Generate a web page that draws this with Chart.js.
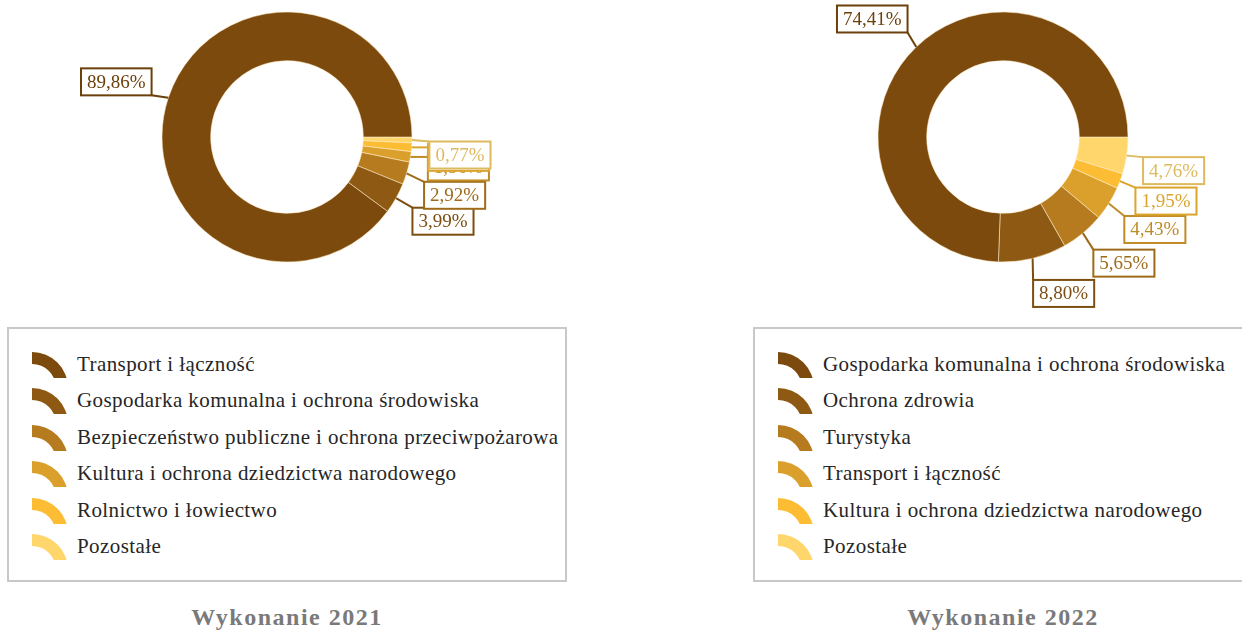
<!DOCTYPE html>
<html lang="pl">
<head>
<meta charset="utf-8">
<script src="https://cdn.jsdelivr.net/npm/chart.js@4.4.1/dist/chart.umd.min.js"></script>
<style>
  html, body { margin: 0; padding: 0; background: #fff; }
  body {
    width: 1242px; height: 632px; position: relative; overflow: hidden;
    font-family: "Liberation Serif", "Times New Roman", serif;
  }
  .panel { position: absolute; top: 0; width: 621px; height: 632px; }
  .panel canvas.chart { position: absolute; left: 0; top: 0; }
  .legend {
    position: absolute; top: 327px; height: 251px;
    border: 2px solid #c8c8c8;
  }
  .legend .row {
    position: absolute; left: 0; height: 36px; line-height: 36px;
    white-space: nowrap; color: #262626; font-size: 21px; letter-spacing: 0.42px;
  }
  .legend .row canvas { position: absolute; left: 22px; top: 5px; }
  .legend .row span { position: absolute; left: 68px; }
  .title {
    position: absolute; top: 604px; width: 400px; text-align: center;
    font-weight: bold; font-size: 24px; letter-spacing: 1.5px; color: #7a7a7a;
  }
</style>
</head>
<body>
<div class="panel" id="p2021" style="left:0">
  <canvas class="chart" id="c2021" width="621" height="320"></canvas>
  <div class="legend" style="left:7px; width:556px"></div>
  <div class="title" style="left:87px"></div>
</div>
<div class="panel" id="p2022" style="left:621px">
  <canvas class="chart" id="c2022" width="621" height="320"></canvas>
  <div class="legend" style="left:132px; width:600px"></div>
  <div class="title" style="left:182px"></div>
</div>
<script>
// struktura wydatków majątkowych (%)
const categories2021 = [
  'Transport i łączność',
  'Gospodarka komunalna i ochrona środowiska',
  'Bezpieczeństwo publiczne i ochrona przeciwpożarowa',
  'Kultura i ochrona dziedzictwa narodowego',
  'Rolnictwo i łowiectwo',
  'Pozostałe'
];
const shares2021 = [89.86, 3.99, 2.92, 1.36, 1.10, 0.77];

const categories2022 = [
  'Gospodarka komunalna i ochrona środowiska',
  'Ochrona zdrowia',
  'Turystyka',
  'Transport i łączność',
  'Kultura i ochrona dziedzictwa narodowego',
  'Pozostałe'
];
const shares2022 = [74.41, 8.80, 5.65, 4.43, 1.95, 4.76];

const titles = ['Wykonanie 2021', 'Wykonanie 2022'];

const palette = ['#7b4a0c', '#8e5a13', '#b67b1e', '#dba02b', '#fcbc33', '#ffd66c'];

// przesunięcia etykiet względem środka łuku (kolejność legendy)
const labelOffsets2021 = [[-52, -16], [47, 23], [48, 22], [48, 10], [47, 10], [48, 15]];
const labelOffsets2022 = [[-44, -28], [31, 35], [41, 30], [46, 26], [46, 20], [47, 15]];

function darken(hex, f) {
  const n = parseInt(hex.slice(1), 16);
  const r = Math.round(((n >> 16) & 255) * f);
  const g = Math.round(((n >> 8) & 255) * f);
  const b = Math.round((n & 255) * f);
  return `rgb(${r},${g},${b})`;
}

const fmt = v => v.toFixed(2).replace('.', ',') + '%';

const sliceLabels = {
  id: 'sliceLabels',
  afterDatasetsDraw(chart, args, opts) {
    const ctx = chart.ctx;
    const meta = chart.getDatasetMeta(0);
    const data = chart.data.datasets[0].data;
    const n = data.length;
    ctx.save();
    ctx.font = '19px "Liberation Serif"';
    ctx.textAlign = 'center';
    ctx.textBaseline = 'middle';
    // legend order: first category drawn first, last one on top
    for (let k = 0; k < n; k++) {
      const i = n - 1 - k;
      const arc = meta.data[i];
      const p = arc.getProps(['x', 'y', 'startAngle', 'endAngle', 'outerRadius'], true);
      const mid = (p.startAngle + p.endAngle) / 2;
      const ax = p.x + Math.cos(mid) * p.outerRadius;
      const ay = p.y + Math.sin(mid) * p.outerRadius;
      const [dx, dy] = opts.offsets[k];
      const text = fmt(data[i]);
      const w = ctx.measureText(text).width + 12;
      const h = 27;
      const cx = ax + dx, cy = ay + dy;
      const bx = cx - w / 2, by = cy - h / 2;
      const px = Math.min(Math.max(ax, bx), bx + w);
      const py = Math.min(Math.max(ay, by), by + h);
      const col = darken(opts.colors[k], 0.87);

      ctx.strokeStyle = col;
      ctx.lineWidth = 2;
      ctx.beginPath();
      ctx.moveTo(ax, ay);
      ctx.lineTo(px, py);
      ctx.stroke();

      ctx.fillStyle = '#fff';
      ctx.fillRect(bx, by, w, h);
      ctx.strokeRect(bx, by, w, h);
      ctx.fillStyle = col;
      ctx.fillText(text, cx, cy + 1);
    }
    ctx.restore();
  }
};

function legendIcon(color) {
  const c = document.createElement('canvas');
  c.width = 38; c.height = 27;
  const g = c.getContext('2d');
  g.fillStyle = color;
  g.beginPath();
  g.arc(1, 37, 36, -Math.PI / 2, 0);
  g.arc(1, 37, 24, 0, -Math.PI / 2, true);
  g.closePath();
  g.fill();
  return c;
}

function buildPanel(panelId, canvasId, cats, vals, offsets, title, padLeft) {
  const canvas = document.getElementById(canvasId);
  new Chart(canvas, {
    type: 'doughnut',
    data: {
      labels: cats.slice().reverse(),
      datasets: [{
        data: vals.slice().reverse(),
        backgroundColor: palette.slice().reverse(),
        borderColor: 'rgba(255,236,200,0.55)',
        borderWidth: 1
      }]
    },
    options: {
      responsive: false,
      animation: false,
      events: [],
      rotation: 90,
      radius: 125,
      cutout: 76,
      layout: { padding: { left: padLeft, right: 621 - padLeft - 250, top: 12, bottom: 58 } },
      plugins: {
        legend: { display: false },
        tooltip: { enabled: false },
        sliceLabels: { offsets: offsets, colors: palette }
      }
    },
    plugins: [sliceLabels]
  });

  const panel = document.getElementById(panelId);
  const legend = panel.querySelector('.legend');
  cats.forEach((name, i) => {
    const row = document.createElement('div');
    row.className = 'row';
    row.style.top = (17 + i * 36.4) + 'px';
    row.appendChild(legendIcon(palette[i]));
    const s = document.createElement('span');
    s.textContent = name;
    row.appendChild(s);
    legend.appendChild(row);
  });
  panel.querySelector('.title').textContent = title;
}

buildPanel('p2021', 'c2021', categories2021, shares2021, labelOffsets2021, titles[0], 162);
buildPanel('p2022', 'c2022', categories2022, shares2022, labelOffsets2022, titles[1], 257);
</script>
</body>
</html>
